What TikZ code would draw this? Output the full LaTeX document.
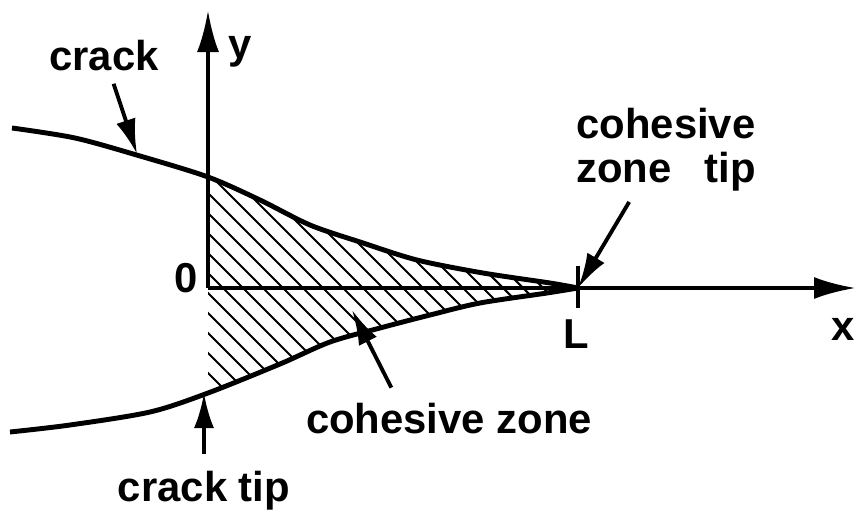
\documentclass[tikz,border=0pt]{standalone}
\usepackage{fontspec}
\setmainfont{Liberation Sans}
\usetikzlibrary{arrows.meta}

\tikzset{
    lbl/.style={font=\fontsize{23.8}{25.5}\selectfont\bfseries, inner sep=2pt},
    crackline/.style={line width=2.8pt},
    axisline/.style={line width=2.4pt, -{Latex[length=0.84cm,width=0.44cm]}},
    pointer/.style={line width=2.2pt, -{Latex[length=0.7cm,width=0.4cm]}},
    hatchline/.style={line width=1.2pt}
}

\begin{document}
\begin{tikzpicture}
            \useasboundingbox (0,0) rectangle (17.14,10.32);
            % Define key points
            \coordinate (O) at (4.16,4.56);
            \coordinate (Ltip) at (11.56,4.56);
            \coordinate (ytop) at (4.16,10.12);
            \coordinate (xend) at (17.12,4.56);
            \coordinate (crackpt) at (2.74,7.24);
            \coordinate (czpt) at (7.04,4.12);
            \coordinate (ctpt) at (4.08,2.46);
            % Hatch the cohesive zone
            \begin{scope}
                \clip (4.16,0) rectangle (12,10);
                \clip plot[smooth] coordinates {(0.24,7.76) (1.50,7.56) (2.80,7.20) (4.16,6.78) (5.20,6.32) (6.20,5.82) (7.20,5.48) (8.34,5.12) (9.66,4.86) (11.00,4.66) (11.56,4.56)}
                    -- plot[smooth] coordinates {(11.56,4.56) (10.94,4.46) (9.60,4.26) (8.60,4.02) (7.60,3.76) (6.60,3.48) (5.60,3.04) (4.16,2.46) (3.00,2.08) (1.40,1.82) (0.20,1.68)} -- cycle;
                \foreach \h in {6.62,7.02,...,16.3}
                    \draw[hatchline] (\h-8,8) -- (\h-1,1);
            \end{scope}
            % Draw crack faces
            \draw[crackline] plot[smooth] coordinates {(0.24,7.76) (1.50,7.56) (2.80,7.20) (4.16,6.78) (5.20,6.32) (6.20,5.82) (7.20,5.48) (8.34,5.12) (9.66,4.86) (11.00,4.66) (11.56,4.56)};
            \draw[crackline] plot[smooth] coordinates {(0.20,1.68) (1.40,1.82) (3.00,2.08) (4.16,2.46) (5.60,3.04) (6.60,3.48) (7.60,3.76) (8.60,4.02) (9.60,4.26) (10.94,4.46) (11.56,4.56)};
            % Draw axes and tick at L
            \draw[axisline] (O) -- (ytop);
            \draw[axisline] (O) -- (xend);
            \draw[line width=2.4pt] ([yshift=0.44cm]Ltip) -- ([yshift=-0.40cm]Ltip);
            % Labels
            \node[lbl, anchor=base] (crack) at (2.08,8.92) {crack};
            \node[lbl, anchor=base] (ylabel) at (4.80,9.16) {y};
            \node[lbl, anchor=base] (zero) at (3.72,4.48) {0};
            \node[lbl, anchor=base] (Llabel) at (11.52,3.36) {L};
            \node[lbl, anchor=base] (xlabel) at (16.86,3.52) {x};
            \node[lbl, anchor=south, align=center] (cztip) at (13.32,6.41) {cohesive\\zone\hspace{0.8em}tip};
            \node[lbl, anchor=base] (czone) at (8.98,1.66) {cohesive zone};
            \node[lbl, anchor=base] (cracktip) at (4.08,0.30) {crack tip};
            % Pointers
            \draw[pointer, shorten <=0.2cm] (crack) -- (crackpt);
            \draw[pointer, shorten <=0.15cm] ([xshift=-0.66cm]cztip.south) -- (Ltip);
            \draw[pointer, shorten <=0.25cm] ([xshift=-1.04cm]czone.north) -- (czpt);
            \draw[pointer, shorten <=0.25cm] (cracktip) -- (ctpt);
        \end{tikzpicture}
\end{document}
